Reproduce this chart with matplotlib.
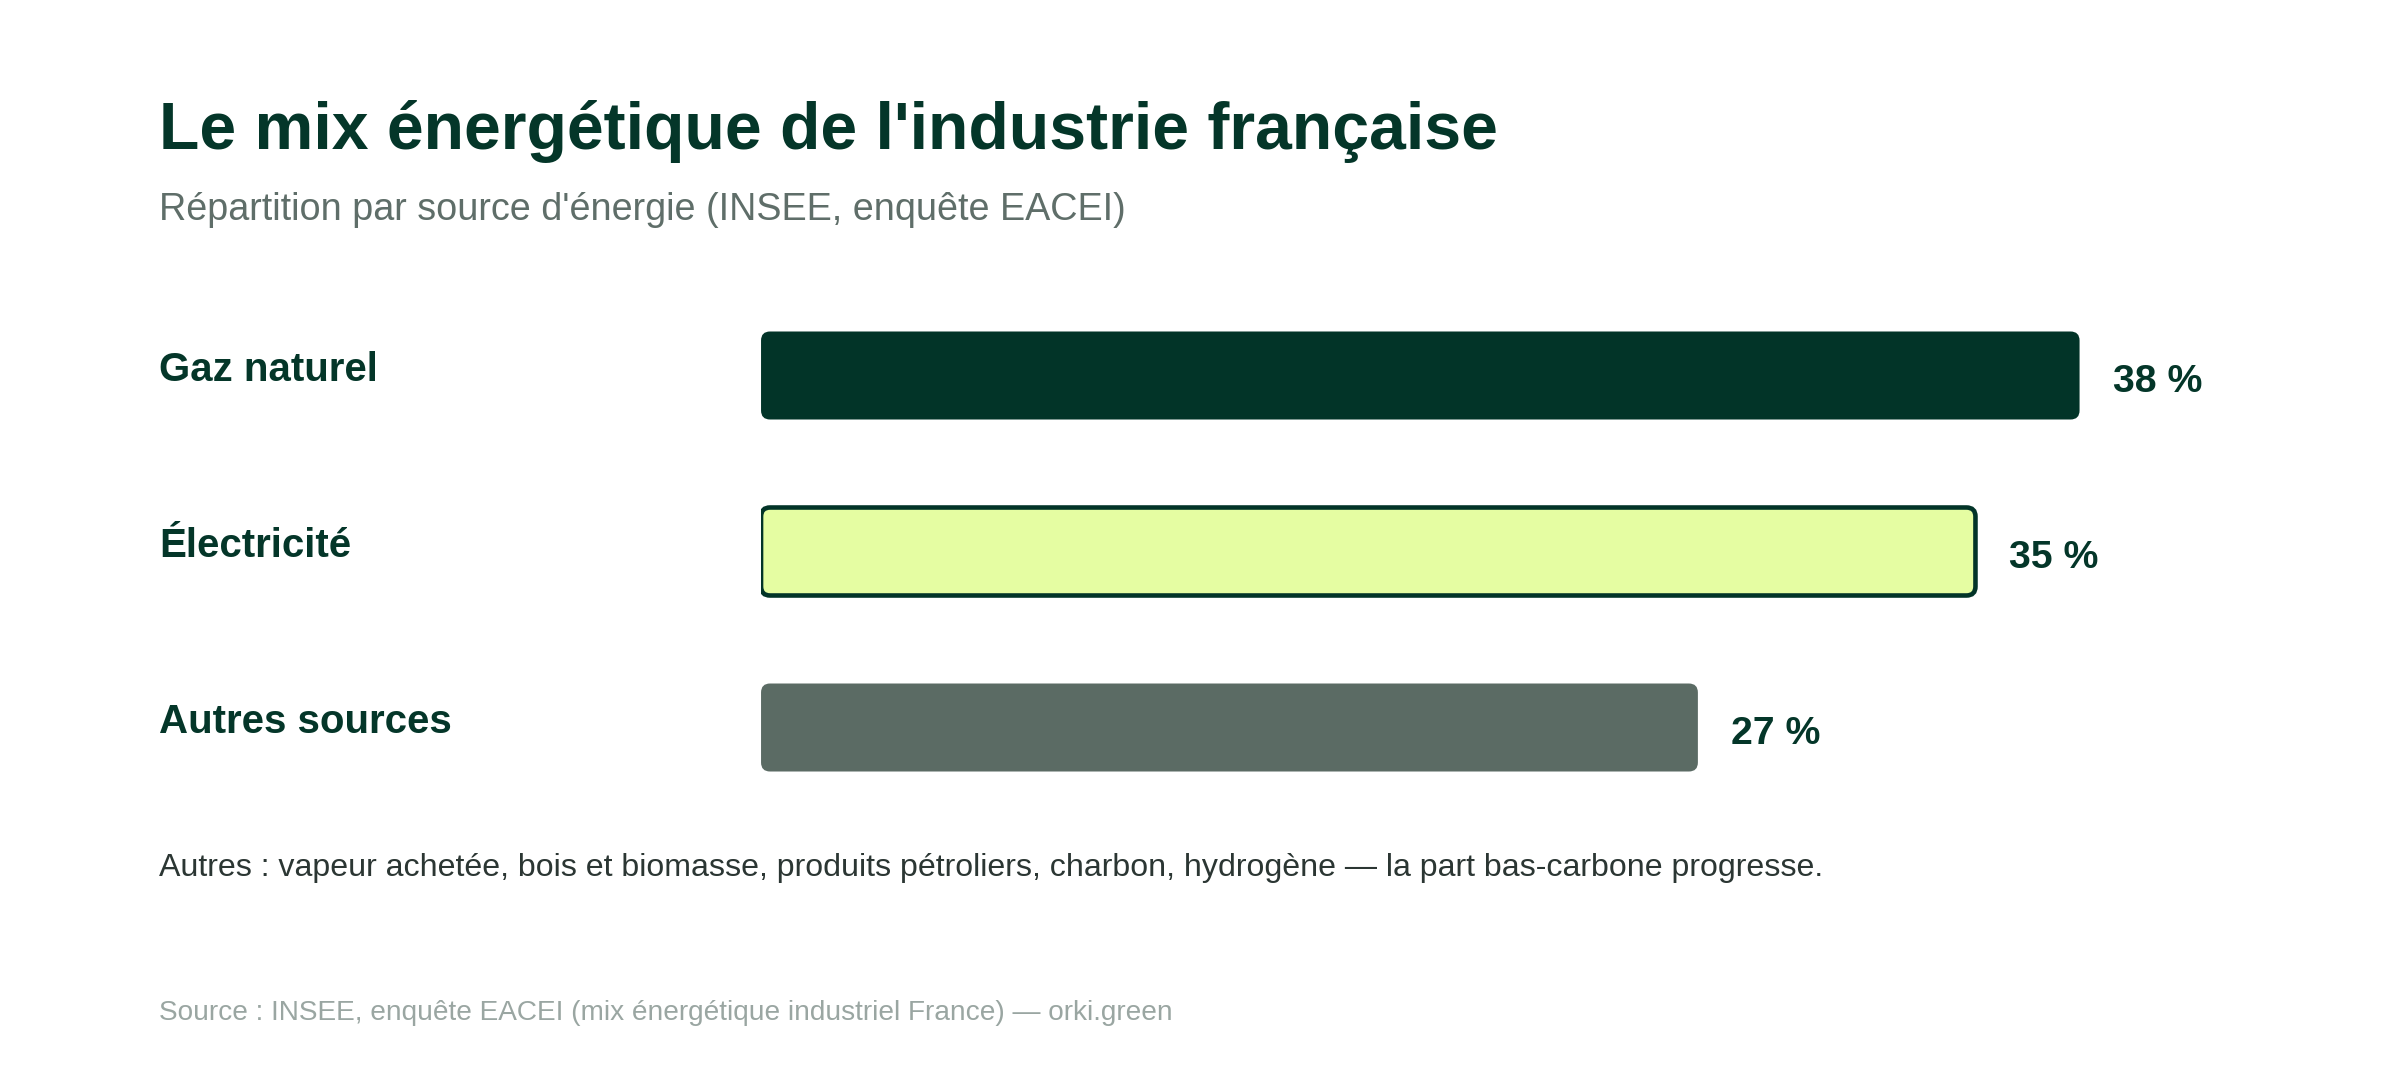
import matplotlib.pyplot as plt
from matplotlib.patches import FancyBboxPatch

plt.rcParams['font.family'] = ['Liberation Sans', 'DejaVu Sans']

categories = ["Gaz naturel", "Électricité", "Autres sources"]
shares = [38, 35, 27]
value_labels = ["38 %", "35 %", "27 %"]
bar_colors = ["#023428", "#e5fda2", "#5b6b64"]
edge_colors = ["none", "#023428", "none"]

title = "Le mix énergétique de l'industrie française"
subtitle = "Répartition par source d'énergie (INSEE, enquête EACEI)"
note = ("Autres : vapeur achetée, bois et biomasse, produits pétroliers, charbon, "
        "hydrogène — la part bas-carbone progresse.")
source = "Source : INSEE, enquête EACEI (mix énergétique industriel France) — orki.green"

dark = "#043629"

fig = plt.figure(figsize=(24, 10.8), dpi=100)
fig.patch.set_facecolor("white")
ax = fig.add_axes([0.3171, 0.2449, 0.5783, 0.4889])
ax.set_xlim(0, 40)
ax.set_ylim(2.5, -0.5)
ax.axis("off")

ypos = list(range(len(categories)))
bars = ax.barh(ypos, shares, height=0.5, color=bar_colors)

# swap the square bars for rounded ones
fig.canvas.draw()
px_x = ax.transData.transform((1, 0))[0] - ax.transData.transform((0, 0))[0]
px_y = abs(ax.transData.transform((0, 1))[1] - ax.transData.transform((0, 0))[1])
aspect = px_x / px_y
radius = 9 / px_x
for bar, fc, ec in zip(bars, bar_colors, edge_colors):
    x, y = bar.get_x(), bar.get_y()
    w, h = bar.get_width(), bar.get_height()
    bar.set_visible(False)
    lw = 3.3 if ec != "none" else 0
    patch = FancyBboxPatch((x, y), w, h,
                           boxstyle=f"round,pad=0,rounding_size={radius}",
                           mutation_aspect=aspect,
                           facecolor=fc, edgecolor=ec, linewidth=lw)
    ax.add_patch(patch)

for i, (cat, lab, val) in enumerate(zip(categories, value_labels, shares)):
    ax.annotate(cat, xy=(0.0663, i), xycoords=("figure fraction", "data"),
                xytext=(0, -4), textcoords="offset points",
                fontsize=29, fontweight="bold", color=dark,
                ha="left", va="baseline")
    ax.annotate(lab, xy=(val, i), xytext=(24, -12), textcoords="offset points",
                fontsize=28.3, fontweight="bold", color=dark,
                ha="left", va="baseline")

fig.text(0.0663, 0.862, title, fontsize=47.6, fontweight="bold", color=dark,
         ha="left", va="baseline")
fig.text(0.0663, 0.7963, subtitle, fontsize=27.2, color="#5f6e69",
         ha="left", va="baseline")
fig.text(0.0663, 0.1889, note, fontsize=23.1, color="#2b3633",
         ha="left", va="baseline")
fig.text(0.0663, 0.0556, source, fontsize=20.2, color="#9aa6a2",
         ha="left", va="baseline")

fig.savefig("out.png", dpi=100, facecolor="white")
